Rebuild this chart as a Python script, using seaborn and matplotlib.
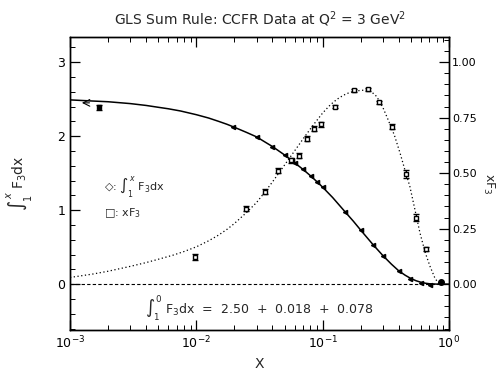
import numpy as np
import pandas as pd
import matplotlib
matplotlib.use("Agg")
import matplotlib.pyplot as plt
import matplotlib.ticker as mticker
import seaborn as sns

sns.set_theme(style="ticks")
plt.rcParams['font.family'] = ['DejaVu Sans']
plt.rcParams['mathtext.fontset'] = 'dejavusans'

# --- curves ---
curve_x = [0.001, 0.0015, 0.002, 0.003, 0.004, 0.005, 0.006, 0.0075, 0.01,
           0.0125, 0.015, 0.0175, 0.02, 0.025, 0.03, 0.035, 0.04, 0.05, 0.06,
           0.07, 0.08, 0.09, 0.1, 0.12, 0.15, 0.175, 0.2, 0.25, 0.3, 0.35,
           0.4, 0.45, 0.5, 0.55, 0.6, 0.65, 0.7, 0.8, 1.0]
integral_curve = [2.49, 2.475, 2.465, 2.44, 2.415, 2.39, 2.37, 2.34, 2.29,
                  2.245, 2.20, 2.16, 2.12, 2.05, 1.99, 1.92, 1.86, 1.745, 1.64,
                  1.55, 1.465, 1.385, 1.31, 1.17, 0.98, 0.85, 0.73, 0.535,
                  0.385, 0.27, 0.18, 0.12, 0.075, 0.045, 0.025, 0.012, 0.005,
                  0.0, 0.0]

xf3_curve_x = [0.001, 0.0015, 0.002, 0.003, 0.004, 0.005, 0.0065, 0.008, 0.01,
               0.0125, 0.015, 0.0175, 0.02, 0.025, 0.03, 0.035, 0.04, 0.046,
               0.054, 0.062, 0.072, 0.084, 0.1, 0.115, 0.13, 0.146, 0.16,
               0.175, 0.2, 0.223, 0.245, 0.268, 0.3, 0.33, 0.37, 0.41, 0.45,
               0.49, 0.54, 0.59, 0.65, 0.71, 0.77, 0.82, 0.86]
xf3_curve = [0.030, 0.045, 0.058, 0.080, 0.097, 0.112, 0.130, 0.147, 0.168,
             0.195, 0.221, 0.247, 0.273, 0.323, 0.368, 0.416, 0.460, 0.508,
             0.564, 0.612, 0.664, 0.716, 0.771, 0.808, 0.833, 0.851, 0.861,
             0.868, 0.873, 0.874, 0.865, 0.845, 0.795, 0.74, 0.67, 0.59, 0.51,
             0.44, 0.33, 0.229, 0.14, 0.078, 0.03, 0.005, 0.0]

# --- data points ---
integral_x = [0.0195, 0.030, 0.040, 0.050, 0.057, 0.060, 0.070, 0.081, 0.090,
              0.100, 0.150, 0.201, 0.251, 0.30, 0.40, 0.49, 0.60, 0.71]
integral_y = [2.12, 1.99, 1.85, 1.74, 1.68, 1.64, 1.55, 1.46, 1.38, 1.31,
              0.97, 0.73, 0.53, 0.38, 0.18, 0.07, 0.014, -0.01]
low_x = [0.0017]
low_y = [2.39]
low_err = [0.03]

xf3_x = [0.0098, 0.0245, 0.035, 0.0444, 0.056, 0.065, 0.0757, 0.0856, 0.097,
         0.125, 0.178, 0.229, 0.28, 0.355, 0.457, 0.549, 0.659]
xf3_y = [0.122, 0.34, 0.416, 0.511, 0.557, 0.579, 0.656, 0.70, 0.72, 0.80,
         0.873, 0.878, 0.819, 0.71, 0.498, 0.30, 0.158]
xf3_err = [0.012, 0.012, 0.012, 0.012, 0.012, 0.012, 0.012, 0.012, 0.012,
           0.008, 0.006, 0.006, 0.008, 0.012, 0.018, 0.015, 0.008]
last_x = [0.865]
last_y = [0.009]

fig = plt.figure(figsize=(4.98, 3.73), dpi=100)
ax = fig.add_axes([0.1406, 0.1153, 0.7610, 0.7855])
ax2 = ax.twinx()

df_int = pd.DataFrame({'x': curve_x, 'y': integral_curve})
sns.lineplot(data=df_int, x='x', y='y', ax=ax, color='black', lw=1.1)
ax.plot([0.001, 1.0], [0, 0], color='black', ls=(0, (3, 2)), lw=0.8)
ax.errorbar(integral_x, integral_y, fmt='<', color='black', ms=3, lw=0.8)
ax.errorbar(low_x, low_y, yerr=low_err, fmt='s', color='black', ms=2.5,
            capsize=2, lw=0.8)
ax.annotate('', xy=(0.00118, 2.45), xytext=(0.00150, 2.45),
            arrowprops=dict(arrowstyle='->', color='black', lw=0.8))

df_xf3 = pd.DataFrame({'x': xf3_curve_x, 'y': xf3_curve})
sns.lineplot(data=df_xf3, x='x', y='y', ax=ax2, color='black', lw=0.9,
             linestyle=(0, (1, 2)))
ax2.errorbar(xf3_x, xf3_y, yerr=xf3_err, fmt='s', mfc='white', mec='black',
             color='black', ms=3.5, capsize=2, lw=0.8)
ax2.plot(last_x, last_y, 'o', color='black', ms=4)

ax.set_xscale('log')
ax.set_xlim(1e-3, 1.0)
ax.set_ylim(-0.62, 3.34)
ax2.set_ylim(-0.62 / 3, 3.34 / 3)

ax.set_yticks([0, 1, 2, 3])
ax.yaxis.set_minor_locator(mticker.MultipleLocator(0.2))
ax2.set_yticks([0, 0.25, 0.5, 0.75, 1.0])
ax2.yaxis.set_major_formatter(mticker.FormatStrFormatter('%.2f'))
ax2.yaxis.set_minor_locator(mticker.MultipleLocator(0.05))

for a in (ax, ax2):
    a.tick_params(which='both', direction='in', labelsize=9, colors='black')
    a.tick_params(which='major', length=7, width=0.9)
    a.tick_params(which='minor', length=3.5, width=0.7)
    for s in a.spines.values():
        s.set_color('black')
        s.set_linewidth(1.0)
ax.tick_params(axis='x', which='both', top=True)
ax.tick_params(axis='y', which='both', right=False)
ax2.tick_params(axis='y', labelsize=8, pad=2)

ax.set_xlabel('X', fontsize=10, labelpad=4)
ax.set_ylabel(r'$\int_1^x$ F$_3$dx', fontsize=10, labelpad=16)
ax2.set_ylabel(r'xF$_3$', fontsize=9, rotation=270, va='center')
ax2.yaxis.set_label_coords(1.105, 0.5)
ax.set_title(r'GLS Sum Rule: CCFR Data at Q$^2$ = 3 GeV$^2$', fontsize=10,
             pad=9)

ax.text(0.09, 0.488, r'◇: $\int_1^x$ F$_3$dx', transform=ax.transAxes,
        fontsize=8, va='center')
ax.text(0.09, 0.40, r'□: xF$_3$', transform=ax.transAxes,
        fontsize=8, va='center')
ax.text(0.50, 0.075, r'$\int_1^0$ F$_3$dx  =  2.50  +  0.018  +  0.078',
        transform=ax.transAxes, fontsize=9, ha='center', va='center')

fig.savefig('out.png', dpi=100)
